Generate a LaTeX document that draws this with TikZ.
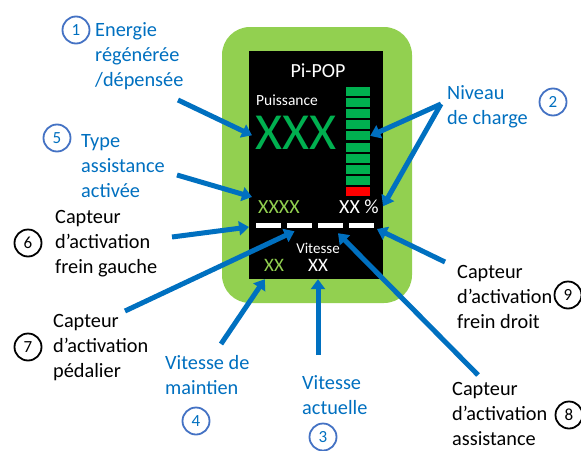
\documentclass[tikz,border=0pt]{standalone}
\usepackage{fontspec}
\setmainfont{Carlito}
\usepackage{xcolor}
\definecolor{FrameGreen}{HTML}{92D050}
\definecolor{BarGreen}{HTML}{00B050}
\definecolor{BarRed}{HTML}{FF0000}
\definecolor{ArrowBlue}{HTML}{0070C0}
\definecolor{RingBlue}{HTML}{4472C4}
\usetikzlibrary{arrows.meta, positioning}

\begin{document}
\begin{tikzpicture}[
  x=1pt, y=-1pt,
  % === GRUNDSTILE ===
  % Gehäuse (grüner Rahmen)
  housing/.style={
    fill=FrameGreen,
    rounded corners=28pt,
    minimum width=190pt,
    minimum height=276pt,
    inner sep=0pt
  },
  % Bildschirm
  screen/.style={
    fill=black,
    minimum width=134pt,
    minimum height=228pt,
    inner sep=0pt
  },
  % Segment der Ladeanzeige
  seg/.style={
    fill=#1,
    minimum width=24pt,
    minimum height=9pt,
    inner sep=0pt
  },
  seg/.default=BarGreen,
  % Weißer Strich (Sensoren)
  dashbox/.style={
    fill=white,
    minimum width=24.5pt,
    minimum height=5pt,
    inner sep=0pt
  },
  % Text auf dem Bildschirm
  scrtxt/.style={
    text=#1,
    inner sep=0pt,
    anchor=base
  },
  scrtxt/.default=white,
  % Beschriftungen (Anker = Grundlinie der letzten Zeile)
  lbl/.style={
    text=#1,
    font=\fontsize{20.3}{25}\selectfont,
    align=left,
    inner sep=0pt,
    anchor=base west
  },
  lbl/.default=black,
  % Nummernkreis
  num/.style={
    circle,
    draw=#1,
    line width=1.8pt,
    minimum size=27pt,
    inner sep=0pt,
    font=\fontsize{17}{20}\selectfont
  },
  num/.default=black,
  % Pfeile
  ptr/.style={
    draw=ArrowBlue,
    line width=5pt,
    -{Triangle[length=10pt,width=14pt]}
  }
]

% =============================================================================
% HINTERGRUND
% =============================================================================
\useasboundingbox[fill=white] (0,0) rectangle (581,450);

% =============================================================================
% GERÄT
% =============================================================================
\node[housing] (frame) at (317,165) {};
\node[screen] (scr) at (316,165) {};

\node[scrtxt, font=\fontsize{20}{24}\selectfont] (title) at (318,77) {Pi-POP};
\node[scrtxt, anchor=base west, font=\fontsize{15.5}{18}\selectfont] (puiss) at (256,105) {Puissance};
\node[scrtxt=BarGreen, anchor=base west, font=\fontsize{52}{60}\selectfont] (big) at (255,149) {XXX};

% --- Ladeanzeige ---
\foreach \i in {0,...,8} {
  \node[seg] (bar\i) at (358,91.5+11.1*\i) {};
}
\node[seg=BarRed] (bar9) at (358,91.5+11.1*9) {};

\node[scrtxt=FrameGreen, anchor=base west, font=\fontsize{20}{24}\selectfont] (mode) at (258,213) {XXXX};
\node[scrtxt, anchor=base west, font=\fontsize{20}{24}\selectfont] (charge) at (339,213) {XX \%};

% --- Striche ---
\foreach \i in {1,...,4} {
  \node[dashbox] (d\i) at (268.5+31*\i-31,225.5) {};
}

\node[scrtxt, font=\fontsize{15}{18}\selectfont] (vtxt) at (318,253) {Vitesse};
\node[scrtxt=FrameGreen, font=\fontsize{19}{22}\selectfont] (vmaint) at (274,271) {XX};
\node[scrtxt, font=\fontsize{19}{22}\selectfont] (vact) at (318,271) {XX};

% =============================================================================
% BESCHRIFTUNGEN
% =============================================================================
\node[lbl=ArrowBlue] (lab1) at (95,86) {Energie\\régénérée\\/dépensée};
\node[num=RingBlue, text=ArrowBlue] (num1) at (76,30) {1};

\node[lbl=ArrowBlue] (lab2) at (447,124) {Niveau\\de charge};
\node[num=RingBlue, text=ArrowBlue] (num2) at (553,102) {2};

\node[lbl=ArrowBlue] (lab3) at (302,414) {Vitesse\\actuelle};
\node[num=RingBlue, text=ArrowBlue] (num3) at (323,437) {3};

\node[lbl=ArrowBlue] (lab4) at (165,394) {Vitesse de\\maintien};
\node[num=RingBlue, text=ArrowBlue] (num4) at (196,421) {4};

\node[lbl=ArrowBlue] (lab5) at (81,197) {Type\\assistance\\activée};
\node[num=RingBlue, text=ArrowBlue] (num5) at (57,138) {5};

\node[lbl] (lab6) at (55,273) {Capteur\\d’activation\\frein gauche};
\node[num] (num6) at (28,243) {6};

\node[lbl] (lab7) at (53,377) {Capteur\\d’activation\\pédalier};
\node[num] (num7) at (28,347) {7};

\node[lbl] (lab8) at (452,445) {Capteur\\d’activation\\assistance};
\node[num] (num8) at (569,415) {8};

\node[lbl] (lab9) at (457,328) {Capteur\\d’activation\\frein droit};
\node[num] (num9) at (568,295) {9};

% =============================================================================
% PFEILE
% =============================================================================
\coordinate (t1) at (178,100);
\coordinate (t2) at (441,104);
\coordinate (t3) at (318,355);
\coordinate (t4) at (221,344);
\coordinate (t5) at (177,175);
\coordinate (t6) at (172,237);
\coordinate (t7) at (125,311);
\coordinate (t8) at (478,375);
\coordinate (t9) at (445,262);

\draw[ptr] (t1) -- ([xshift=-3pt,yshift=-3pt]big.west);
\draw[ptr] (t2) -- (bar4.east);
\draw[ptr] (t2) -- ([xshift=4pt]charge.east);
\draw[ptr] (t3) -- (t3 |- scr.south);
\draw[ptr] (t4) -- ([xshift=16pt]scr.south west);
\draw[ptr] (t5) -- ([xshift=-6pt,yshift=3pt]mode.north west);
\draw[ptr] (t6) -- ([xshift=-7pt,yshift=-1.5pt]d1.west);
\draw[ptr] (t7) -- ([xshift=-5pt,yshift=-3pt]d2.south);
\draw[ptr] (t8) -- ([xshift=-5pt,yshift=-5pt]d3.south east);
\draw[ptr] (t9) -- ([xshift=3pt,yshift=-3.5pt]d4.east);

\end{tikzpicture}
\end{document}
